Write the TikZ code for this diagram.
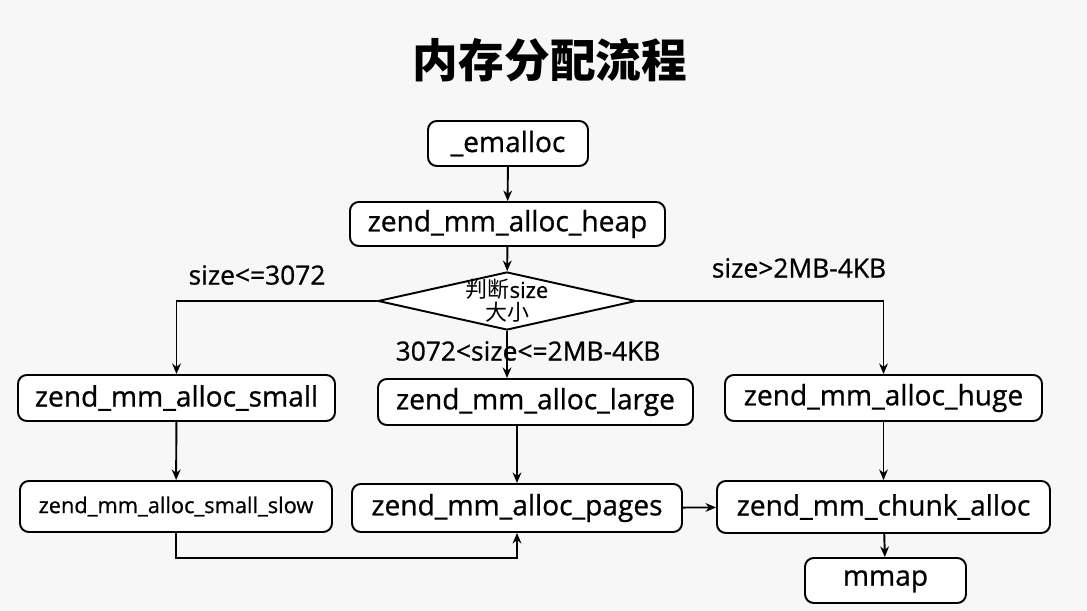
\documentclass[tikz,border=0pt]{standalone}
\usepackage{fontspec}
\setmainfont{Open Sans}[FakeBold=0.8]
\newfontfamily\cjk{Noto Sans CJK SC}
\usetikzlibrary{shapes.geometric,arrows.meta}
\begin{document}
\begin{tikzpicture}[line width=1.1pt,>={Stealth[length=6pt,width=5pt]},
	fn/.style={draw,rounded corners=5pt,fill=white,inner sep=0pt,font=\fontsize{16}{18}\selectfont},
	cond/.style={font=\fontsize{15}{17}\selectfont}]
	\fill[black!3] (0,0) rectangle (21.74,12.22);
	\node[font=\cjk\bfseries\fontsize{26}{28}\selectfont] (title) at (11.0,11.02) {内存分配流程};
	\node[fn,minimum width=3.2cm,minimum height=0.9cm] (emalloc) at (10.16,9.35) {\_emalloc};
	\node[fn,minimum width=6.3cm,minimum height=0.88cm] (heap) at (10.15,7.74) {zend\_mm\_alloc\_heap};
	\node[diamond,aspect=4.45,draw,fill=white,inner sep=-0.25cm,minimum width=5.16cm,minimum height=1.16cm,
		align=center,font=\fontsize{12.5}{13}\selectfont] (judge) at (10.14,6.2) {{\cjk 判断}size\\{\cjk 大小}};
	\node[fn,minimum width=6.34cm,minimum height=0.92cm] (small) at (3.53,4.26) {zend\_mm\_alloc\_small};
	\node[fn,minimum width=6.3cm,minimum height=0.92cm] (large) at (10.71,4.18) {zend\_mm\_alloc\_large};
	\node[fn,minimum width=6.34cm,minimum height=0.92cm] (huge) at (17.67,4.26) {zend\_mm\_alloc\_huge};
	\node[fn,minimum width=6.24cm,minimum height=1.02cm,font=\fontsize{12.4}{14}\selectfont] (slow) at (3.52,2.09) {zend\_mm\_alloc\_small\_slow};
	\node[fn,minimum width=6.6cm,minimum height=0.96cm] (pages) at (10.34,2.06) {zend\_mm\_alloc\_pages};
	\node[fn,minimum width=6.66cm,minimum height=1.04cm] (chunk) at (17.67,2.08) {zend\_mm\_chunk\_alloc};
	\node[fn,minimum width=3.22cm,minimum height=0.9cm,text depth=0.1cm] (mmap) at (17.71,0.61) {mmap};
	\node[cond] (lsmall) at (5.14,6.72) {size<=3072};
	\node[cond] (lhuge) at (15.98,6.86) {size>2MB-4KB};
	\node[cond] (llarge) at (10.56,5.2) {3072<size<=2MB-4KB};
	\draw[->] (emalloc) -- (heap);
	\draw[->] (heap) -- (judge);
	\draw[->] (judge.west) -| (small.north);
	\draw[->] (judge.east) -| (huge.north);
	\draw[->] (judge.south) -- (judge.south |- large.north);
	\draw[->] (small) -- (slow);
	\draw[->] (pages.north |- large.south) -- (pages.north);
	\draw[->] (huge) -- (chunk);
	\draw[->] (slow.south) -- ++(0,-0.5) -| (pages.south);
	\draw[->] (pages) -- (chunk);
	\draw[->] (chunk) -- (mmap);
\end{tikzpicture}
\end{document}
